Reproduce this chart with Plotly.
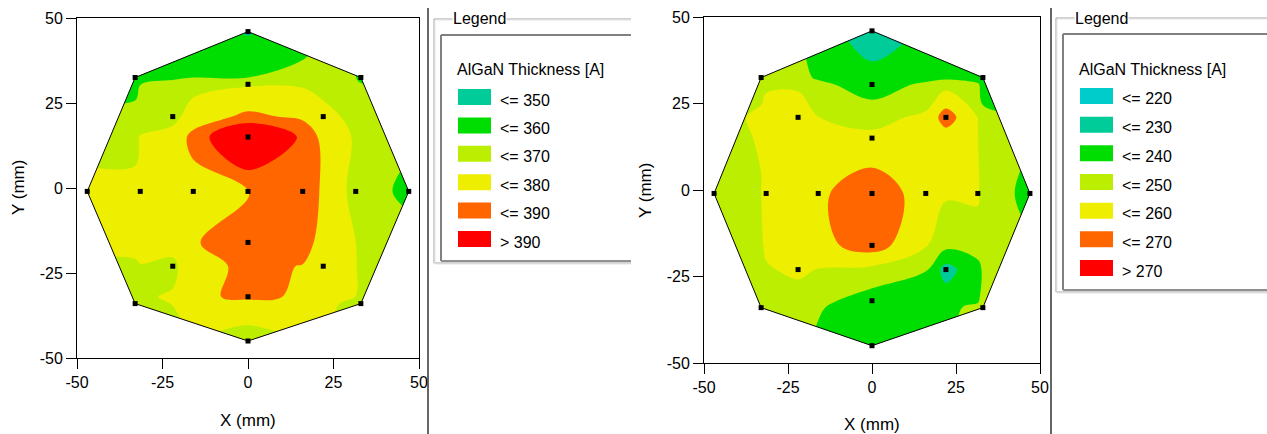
import plotly.graph_objects as go

W, H = 1267, 434

# ---------------- data ----------------
# measurement sites on the wafer (mm)
site_x = [0, -33, 33, 0, -22, 22, 0, -47, -31.5, -16, 0, 16, 31.5, 47, 0, -22, 22, 0, -33, 33, 0]
site_y = [46, 32.5, 32.5, 30.5, 21, 21, 15, -1, -1, -1, -1, -1, -1, -1, -16, -23, -23, -32, -34, -34, -45]
# indices of the sites that form the wafer outline (counter-clockwise)
edge_idx = [0, 1, 7, 18, 20, 19, 13, 2]

# AlGaN thickness [A] read at each site
left_vals = [349, 347, 356, 369, 367, 373, 407, 372, 375, 376, 379, 390, 367, 358,
             389, 368, 375, 384, 365, 365, 367]
right_vals = [224, 249, 225, 234, 257, 265, 252, 245, 255, 258, 267, 255, 252, 238,
              265, 252, 226, 235, 241, 247, 236]

left_levels = [350, 360, 370, 380, 390]
left_labels = ["<= 350", "<= 360", "<= 370", "<= 380", "<= 390", "> 390"]
left_colors = ["#00CC99", "#00DD00", "#BBEE00", "#EEEE00", "#FF6600", "#FF0000"]

right_levels = [220, 230, 240, 250, 260, 270]
right_labels = ["<= 220", "<= 230", "<= 240", "<= 250", "<= 260", "<= 270", "> 270"]
right_colors = ["#00CCCC", "#00CC99", "#00DD00", "#BBEE00", "#EEEE00", "#FF6600", "#FF0000"]

tick_vals = [-50, -25, 0, 25, 50]
tick_text = ["-50", "-25", "0", "25", "50"]

FONT = "Liberation Sans, Arial, sans-serif"


def px(x):
    return x / W


def py(y):
    return 1 - y / H


def stepped(colors):
    n = len(colors)
    scale = []
    for k, c in enumerate(colors):
        a = max(0.0, (k - 0.5) / (n - 1))
        b = min(1.0, (k + 0.5) / (n - 1))
        scale.append([a, c])
        scale.append([b, c])
    return scale


fig = go.Figure()


def add_wafer(vals, levels, colors, xa, ya):
    step = levels[1] - levels[0]
    fig.add_trace(go.Contour(
        x=site_x, y=site_y, z=vals,
        contours=dict(start=levels[0], end=levels[-1], size=step,
                      coloring="fill", showlines=False),
        colorscale=stepped(colors), zmin=levels[0] - step / 2, zmax=levels[-1] + step / 2,
        line=dict(width=0), showscale=False, hoverinfo="skip",
        xaxis=xa, yaxis=ya))
    # white mask outside the wafer outline
    R = 60
    ox = [site_x[i] for i in edge_idx] + [site_x[edge_idx[0]]]
    oy = [site_y[i] for i in edge_idx] + [site_y[edge_idx[0]]]
    mx = [-R, R, R, -R, -R] + ox + [-R]
    my = [R, R, -R, -R, R] + oy + [R]
    fig.add_trace(go.Scatter(x=mx, y=my, mode="lines", fill="toself",
                             fillcolor="white", line=dict(width=0),
                             hoverinfo="skip", showlegend=False, xaxis=xa, yaxis=ya))
    # outline
    fig.add_trace(go.Scatter(x=ox, y=oy, mode="lines", line=dict(color="black", width=1),
                             hoverinfo="skip", showlegend=False, xaxis=xa, yaxis=ya))
    # sites
    fig.add_trace(go.Scatter(x=site_x, y=site_y, mode="markers",
                             marker=dict(symbol="square", size=5, color="black"),
                             showlegend=False, xaxis=xa, yaxis=ya, cliponaxis=False))


add_wafer(left_vals, left_levels, left_colors, "x", "y")
add_wafer(right_vals, right_levels, right_colors, "x2", "y2")

axis_common = dict(range=[-50, 50], tickvals=tick_vals, ticktext=tick_text,
                   ticks="outside", ticklen=10, tickcolor="black", showline=True,
                   linecolor="black", linewidth=1, mirror=True, showgrid=False,
                   zeroline=False, tickfont=dict(family=FONT, size=16, color="black"),
                   fixedrange=True)

fig.update_layout(
    width=W, height=H, margin=dict(l=0, r=0, t=0, b=0, autoexpand=False),
    paper_bgcolor="white", plot_bgcolor="white", showlegend=False,
    xaxis=dict(domain=[px(77), px(419)], anchor="y", **axis_common),
    yaxis=dict(domain=[py(358), py(18)], anchor="x", **axis_common),
    xaxis2=dict(domain=[px(704), px(1040)], anchor="y2", **axis_common),
    yaxis2=dict(domain=[py(363), py(17)], anchor="x2", **axis_common),
)

shapes = []
annotations = []


def text(x, y, s, size=16, xanchor="left", angle=0, bg=None):
    d = dict(x=px(x), y=py(y), xref="paper", yref="paper", text=s, showarrow=False,
             xanchor=xanchor, yanchor="middle", textangle=angle,
             font=dict(family=FONT, size=size, color="black"))
    if bg:
        d["bgcolor"] = bg
        d["borderpad"] = 0
    annotations.append(d)


def line(x0, y0, x1, y1, color, width=1):
    shapes.append(dict(type="line", xref="paper", yref="paper",
                       x0=px(x0), y0=py(y0), x1=px(x1), y1=py(y1),
                       line=dict(color=color, width=width)))


# axis titles
text(248, 420, "X (mm)", size=17, xanchor="center")
text(18, 188, "Y (mm)", size=17, xanchor="center", angle=-90)
text(872, 424, "X (mm)", size=17, xanchor="center")
text(645, 190, "Y (mm)", size=17, xanchor="center", angle=-90)

# separators
line(428, 8, 428, 434, "#333333", 1.5)
line(1051, 8, 1051, 434, "#333333", 1.5)


def legend_box(ox, top, bottom, right, ix, itop, ibottom, title_y, y0, dy,
               labels, colors):
    # outer etched frame
    for off, col in [(0, "#a0a0a0"), (1, "#e4e4e4")]:
        line(ox + off, top + off, right, top + off, col, 1)
        line(ox + off, top + off, ox + off, bottom + off, col, 1)
        line(ox + off, bottom + off, right, bottom + off, col, 1)
    # inner frame
    line(ix, itop, right, itop, "#808080", 2)
    line(ix, itop, ix, ibottom, "#808080", 2)
    line(ix, ibottom, right, ibottom, "#909090", 2)
    text(ox + 18, top, "Legend", size=16, bg="white")
    text(ix + 14, title_y, "AlGaN Thickness [A]", size=16)
    sx = ix + 17
    for i, (lab, col) in enumerate(zip(labels, colors)):
        cy = y0 + i * dy
        shapes.append(dict(type="rect", xref="paper", yref="paper",
                           x0=px(sx), x1=px(sx + 33), y0=py(cy + 8), y1=py(cy - 8),
                           fillcolor=col, line=dict(width=0)))
        text(sx + 40, cy + 3, lab, size=16)


legend_box(434, 19, 263, 631, 441, 35, 261, 70, 97, 28.4, left_labels, left_colors)
legend_box(1056, 18, 292, 1267, 1063, 34, 290, 69, 96, 28.67, right_labels, right_colors)

fig.update_layout(shapes=shapes, annotations=annotations)
fig.write_html("out.html", config={"displayModeBar": False},
               post_script="document.body.style.margin='0';document.body.style.overflow='hidden';")
